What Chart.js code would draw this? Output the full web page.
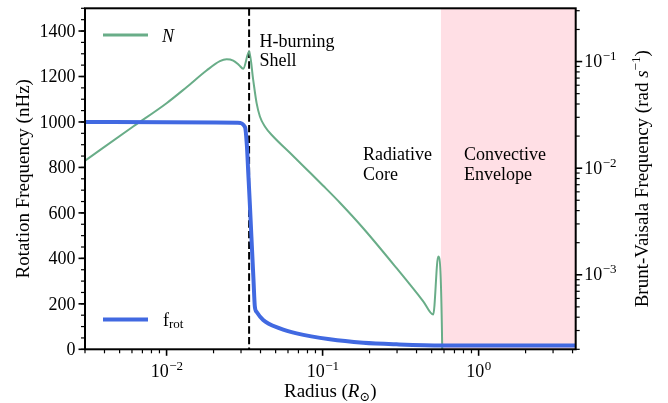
<!DOCTYPE html>
<html>
<head>
<meta charset="utf-8">
<script src="https://cdn.jsdelivr.net/npm/chart.js@4/dist/chart.umd.min.js"></script>
<style>
body { margin: 0; background: #fff; }
canvas { display: block; }
</style>
</head>
<body>
<canvas id="rotChart" width="668" height="403"></canvas>
<script>
// Brunt-Vaisala frequency profile: radius (R_sun) vs N (rad/s)
var radiusN = [0.00299, 0.00611, 0.0100, 0.01343, 0.01804, 0.02196, 0.02426, 0.02674, 0.0292, 0.03097,
	0.03384, 0.0359, 0.03776, 0.03964, 0.04266, 0.04824, 0.0617, 0.0789, 0.1009, 0.1291,
	0.1821, 0.2981, 0.4416, 0.5117, 0.5508, 0.5845, 0.60, 4.15, 4.22];
var bvFreq = [0.01172, 0.0246, 0.0407, 0.0575, 0.0824, 0.1009, 0.1052, 0.1021, 0.0925, 0.0855,
	0.1241, 0.0674, 0.0407, 0.0305, 0.0246, 0.01982, 0.01394, 0.00977, 0.00684, 0.00474,
	0.002734, 0.001153, 0.000564, 0.000423, 0.001486, 0.0002, 0.000001, 0.000001, 0.0025];

// rotation profile: radius (R_sun) vs f_rot (nHz)
var radiusRot = [0.00299, 0.0100, 0.0286, 0.0318, 0.0327, 0.0334, 0.0342, 0.03497, 0.03606, 0.0368,
	0.0378, 0.0416, 0.0532, 0.0681, 0.1113, 0.182, 0.298, 0.585, 4.19];
var rotFreq = [1000, 999, 997, 978, 898, 774, 634, 495, 305, 187,
	164, 129, 92, 70, 44, 29, 22, 17, 17];

var shellRadius = 0.0338;     // H-burning shell
var envelopeStart = 0.573;    // base of convective envelope
var radiusMin = 0.003, radiusMax = 4.19;

var radiusTicks = [0.01, 0.1, 1];
var radiusTickExp = ['\u22122', '\u22121', '0'];
var rotTicks = [0, 200, 400, 600, 800, 1000, 1200, 1400];
var bvTicks = [0.001, 0.01, 0.1];
var bvTickExp = ['\u22123', '\u22122', '\u22121'];

var SERIF = '"Liberation Serif", "DejaVu Serif", "Times New Roman", serif';
var GREEN = '#69ad88';
var BLUE = '#4169e1';

function pairs(xs, ys){
	var out = [];
	for (var i = 0; i < xs.length; i++) out.push({x: xs[i], y: ys[i]});
	return out;
}

function line(ctx, x1, y1, x2, y2, w){
	ctx.lineWidth = w;
	ctx.beginPath();
	ctx.moveTo(x1, y1);
	ctx.lineTo(x2, y2);
	ctx.stroke();
}

// "10" with a raised exponent
function powLabel(ctx, exp, x, y, align){
	ctx.font = '18px ' + SERIF;
	var wBase = ctx.measureText('10').width;
	ctx.font = '13px ' + SERIF;
	var wExp = ctx.measureText(exp).width;
	var x0 = align == 'center' ? x - (wBase + wExp) / 2 : x;
	ctx.textAlign = 'left';
	ctx.font = '18px ' + SERIF;
	ctx.fillText('10', x0, y);
	ctx.font = '13px ' + SERIF;
	ctx.fillText(exp, x0 + wBase + 0.5, y - 7);
}

// draws a list of [text, font, dy] pieces centred on x
function richText(ctx, parts, x, y){
	var total = 0, i;
	for (i = 0; i < parts.length; i++){
		ctx.font = parts[i][1];
		total += ctx.measureText(parts[i][0]).width;
	}
	var cx = x - total / 2;
	ctx.textAlign = 'left';
	for (i = 0; i < parts.length; i++){
		ctx.font = parts[i][1];
		ctx.fillText(parts[i][0], cx, y + parts[i][2]);
		cx += ctx.measureText(parts[i][0]).width;
	}
}

var axesPlugin = {
	id: 'axesPlugin',
	afterDraw: function(c){
		var ctx = c.ctx, a = c.chartArea;
		var sx = c.scales.x, sy = c.scales.y, sy2 = c.scales.y2;
		var i, k, n, v, p;
		ctx.save();
		ctx.strokeStyle = '#000';
		ctx.fillStyle = '#000';
		ctx.textBaseline = 'alphabetic';

		// text annotations
		ctx.font = '18px ' + SERIF;
		ctx.textAlign = 'left';
		ctx.fillText('H-burning', 259.5, 46.5);
		ctx.fillText('Shell', 259.5, 65.5);
		ctx.fillText('Radiative', 363, 160);
		ctx.fillText('Core', 363, 180);
		ctx.fillText('Convective', 464, 160);
		ctx.fillText('Envelope', 464, 180);

		// legend
		ctx.lineCap = 'butt';
		ctx.strokeStyle = GREEN;
		line(ctx, 103, 35, 148, 35, 2.8);
		ctx.strokeStyle = BLUE;
		line(ctx, 103, 319.5, 148, 319.5, 4);
		ctx.strokeStyle = '#000';
		ctx.font = 'italic 18px ' + SERIF;
		ctx.fillText('N', 162, 41.5);
		ctx.font = '18px ' + SERIF;
		ctx.fillText('f', 163, 325.5);
		ctx.font = '13px ' + SERIF;
		ctx.fillText('rot', 169, 328);

		// x axis ticks (log)
		for (n = -3; n <= 1; n++){
			for (k = 2; k <= 9; k++){
				v = k * Math.pow(10, n);
				if (v < radiusMin || v > radiusMax) continue;
				p = sx.getPixelForValue(v);
				line(ctx, p, a.bottom, p, a.bottom + 4, 1.2);
			}
		}
		for (i = 0; i < radiusTicks.length; i++){
			p = sx.getPixelForValue(radiusTicks[i]);
			line(ctx, p, a.bottom, p, a.bottom + 6.5, 1.6);
			powLabel(ctx, radiusTickExp[i], p, 377, 'center');
		}

		// left axis ticks (linear)
		for (v = 0; v <= 1500; v += 50){
			p = sy.getPixelForValue(v);
			line(ctx, a.left - 4, p, a.left, p, 1.2);
		}
		ctx.font = '18px ' + SERIF;
		ctx.textAlign = 'right';
		for (i = 0; i < rotTicks.length; i++){
			p = sy.getPixelForValue(rotTicks[i]);
			line(ctx, a.left - 6.5, p, a.left, p, 1.6);
			ctx.fillText(String(rotTicks[i]), a.left - 9.5, p + 5.8);
		}

		// right axis ticks (log)
		for (n = -4; n <= 0; n++){
			for (k = 2; k <= 9; k++){
				v = k * Math.pow(10, n);
				if (v < sy2.min || v > sy2.max) continue;
				p = sy2.getPixelForValue(v);
				line(ctx, a.right, p, a.right + 4, p, 1.2);
			}
		}
		for (i = 0; i < bvTicks.length; i++){
			p = sy2.getPixelForValue(bvTicks[i]);
			line(ctx, a.right, p, a.right + 6.5, p, 1.6);
			powLabel(ctx, bvTickExp[i], a.right + 8.5, p + 5.5, 'left');
		}

		// frame
		ctx.lineWidth = 2;
		ctx.strokeRect(a.left, a.top, a.right - a.left, a.bottom - a.top);

		// axis titles
		var midY = (a.top + a.bottom) / 2;
		richText(ctx, [
			['Radius (', '19px ' + SERIF, 0],
			['R', 'italic 19px ' + SERIF, 0],
			['\u2299', '13px ' + SERIF, 4],
			[')', '19px ' + SERIF, 0]
		], (a.left + a.right) / 2, 396.5);

		ctx.save();
		ctx.translate(28.5, midY);
		ctx.rotate(-Math.PI / 2);
		richText(ctx, [['Rotation Frequency (nHz)', '19px ' + SERIF, 0]], 0, 0);
		ctx.restore();

		ctx.save();
		ctx.translate(647.5, midY);
		ctx.rotate(-Math.PI / 2);
		richText(ctx, [
			['Brunt-Vaisala Frequency (rad ', '19px ' + SERIF, 0],
			['s', 'italic 19px ' + SERIF, 0],
			['\u22121', '13px ' + SERIF, -8],
			[')', '19px ' + SERIF, 0]
		], 0, 0);
		ctx.restore();

		ctx.restore();
	}
};

var chart = new Chart(document.getElementById('rotChart'), {
	type: 'scatter',
	data: {
		datasets: [
			{
				// convective envelope shading
				data: [{x: envelopeStart, y: 1500}, {x: radiusMax, y: 1500}],
				yAxisID: 'y',
				showLine: true,
				borderWidth: 0,
				pointRadius: 0,
				fill: 'origin',
				backgroundColor: 'rgba(255,192,203,0.5)',
				order: 4
			},
			{
				// H-burning shell marker
				data: [{x: shellRadius, y: 1500}, {x: shellRadius, y: 0}],
				yAxisID: 'y',
				showLine: true,
				borderColor: '#000',
				borderWidth: 2,
				borderDash: [7.4, 3.2],
				pointRadius: 0,
				order: 3
			},
			{
				label: 'N',
				data: pairs(radiusN, bvFreq),
				yAxisID: 'y2',
				showLine: true,
				borderColor: GREEN,
				borderWidth: 2,
				borderJoinStyle: 'round',
				cubicInterpolationMode: 'monotone',
				pointRadius: 0,
				order: 2
			},
			{
				label: 'f_rot',
				data: pairs(radiusRot, rotFreq),
				yAxisID: 'y',
				showLine: true,
				borderColor: BLUE,
				borderWidth: 4,
				borderJoinStyle: 'round',
				cubicInterpolationMode: 'monotone',
				pointRadius: 0,
				order: 1
			}
		]
	},
	options: {
		responsive: false,
		animation: false,
		layout: { padding: { left: 85, top: 8.3, right: 92.3, bottom: 53.7 } },
		plugins: {
			legend: { display: false },
			tooltip: { enabled: false }
		},
		scales: {
			x: { type: 'logarithmic', min: radiusMin, max: radiusMax, display: false },
			y: { type: 'linear', min: 0, max: 1500, display: false },
			y2: { type: 'logarithmic', position: 'right', min: 0.0002, max: 0.316, display: false }
		}
	},
	plugins: [axesPlugin]
});
</script>
</body>
</html>
